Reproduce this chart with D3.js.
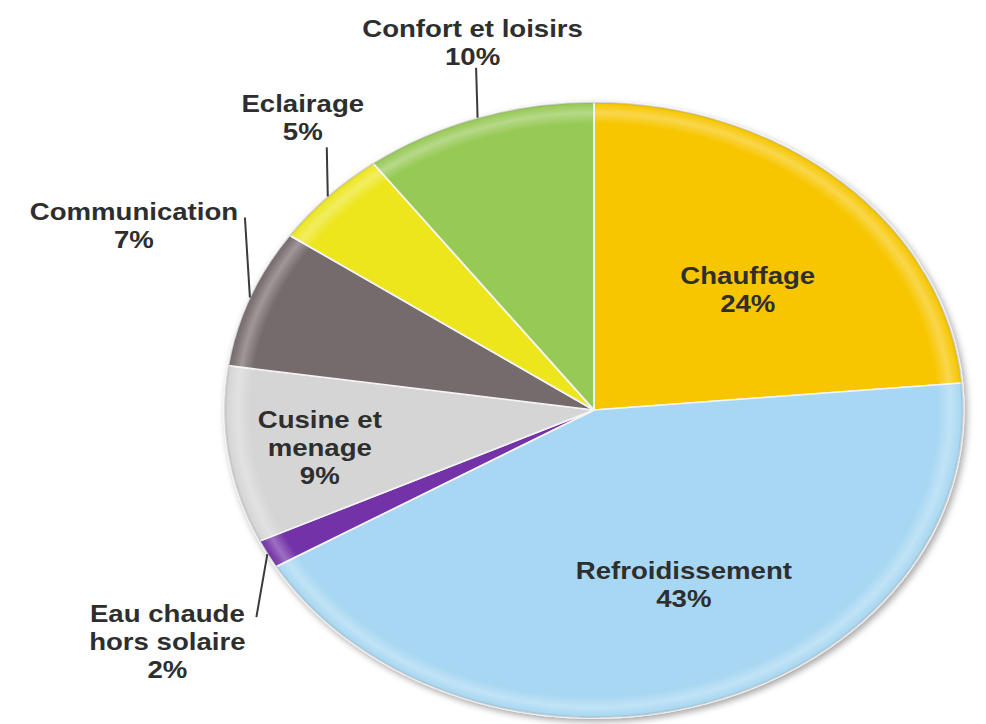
<!DOCTYPE html>
<html>
<head>
<meta charset="utf-8">
<script src="https://cdn.jsdelivr.net/npm/d3@7"></script>
<style>
  html, body { margin: 0; padding: 0; background: #ffffff; }
  svg { display: block; }
  text { font-family: "Liberation Sans", Arial, sans-serif; font-weight: bold; font-variant-ligatures: none; }
</style>
</head>
<body>
<svg id="chart" width="986" height="724"></svg>
<script>
// ---- data ----
const categories = ["Chauffage", "Refroidissement", "Eau chaude hors solaire", "Cusine et menage", "Communication", "Eclairage", "Confort et loisirs"];
const labelLines = [["Chauffage"], ["Refroidissement"], ["Eau chaude", "hors solaire"], ["Cusine et", "menage"], ["Communication"], ["Eclairage"], ["Confort et loisirs"]];
const values = [23.6, 42.9, 1.5, 9.3, 7.3, 5.2, 10.2];
const colors = ["#F7C600", "#A7D7F2", "#7332A8", "#D5D5D5", "#756A6C", "#EDE61F", "#97C955"];

// ---- layout ----
const W = 986, H = 724;
const cx = 594, cy = 410, R = 308, sx = 1.2;
const lineH = 28;
// label placement: radial fraction k along mid angle + pixel nudge; outside labels get a leader line
const layout = [
  { k: 0.6,  dx: 4,    dy: 16 },
  { k: 0.6,  dx: 22,   dy: -1 },
  { k: 1.0,  dx: -100, dy: 88, line: [-11, 63] },
  { k: 0.72, dx: -11,  dy: 5 },
  { k: 1.0,  dx: -116, dy: -72, line: [-5, -80] },
  { k: 1.0,  dx: -25,  dy: -78, line: [-1, -49] },
  { k: 1.0,  dx: -5,   dy: -75, line: [-1.5, -50] }
];

const svg = d3.select("#chart");
const defs = svg.append("defs");

const shadow = defs.append("filter").attr("id", "shadow")
  .attr("x", "-10%").attr("y", "-10%").attr("width", "120%").attr("height", "120%");
shadow.append("feDropShadow").attr("dx", 2).attr("dy", 3).attr("stdDeviation", 3)
  .attr("flood-color", "#000").attr("flood-opacity", 0.35);

const bevel = defs.append("radialGradient").attr("id", "bevel")
  .attr("gradientUnits", "userSpaceOnUse").attr("cx", 0).attr("cy", 0).attr("r", R);
bevel.append("stop").attr("offset", "0.93").attr("stop-color", "#fff").attr("stop-opacity", 0);
bevel.append("stop").attr("offset", "0.965").attr("stop-color", "#fff").attr("stop-opacity", 0.3);
bevel.append("stop").attr("offset", "0.99").attr("stop-color", "#fff").attr("stop-opacity", 0.05);
bevel.append("stop").attr("offset", "1").attr("stop-color", "#000").attr("stop-opacity", 0.2);

const pie = d3.pie().sort(null).value(d => d)(values);
const arc = d3.arc().innerRadius(0).outerRadius(R);

const pg = svg.append("g")
  .attr("transform", `translate(${cx},${cy}) scale(${sx},1)`)
  .attr("filter", "url(#shadow)");

pg.selectAll("path.slice").data(pie).join("path")
  .attr("class", "slice")
  .attr("d", arc)
  .attr("fill", (d, i) => colors[i])
  .attr("stroke", "#f4f4f4")
  .attr("stroke-width", 1.6)
  .attr("stroke-linejoin", "round");

pg.selectAll("path.bevel").data(pie).join("path")
  .attr("class", "bevel")
  .attr("d", arc)
  .attr("fill", "url(#bevel)");

// screen point at mid angle, radial fraction k
function pt(d, k) {
  const a = (d.startAngle + d.endAngle) / 2;
  return [cx + sx * R * k * Math.sin(a), cy - R * k * Math.cos(a)];
}

const pct = v => Math.round(v) + "%";

const lg = svg.append("g");
pie.forEach((d, i) => {
  const L = layout[i];
  const p = pt(d, L.k);
  const x = p[0] + L.dx, y = p[1] + L.dy;
  if (L.line) {
    const e = pt(d, 1.0);
    lg.append("line")
      .attr("x1", e[0] + L.line[0]).attr("y1", e[1] + L.line[1])
      .attr("x2", e[0]).attr("y2", e[1])
      .attr("stroke", "#3a3a3a").attr("stroke-width", 2);
  }
  const lines = labelLines[i].concat([pct(values[i])]);
  const n = lines.length;
  lines.forEach((t, j) => {
    const by = y + (j - (n - 1) / 2) * lineH + 8;
    lg.append("text")
      .attr("transform", `translate(${x},${by}) scale(${sx},1)`)
      .attr("text-anchor", "middle")
      .attr("font-size", 23)
      .attr("fill", "#2e2e2e")
      .text(t);
  });
});
</script>
</body>
</html>
